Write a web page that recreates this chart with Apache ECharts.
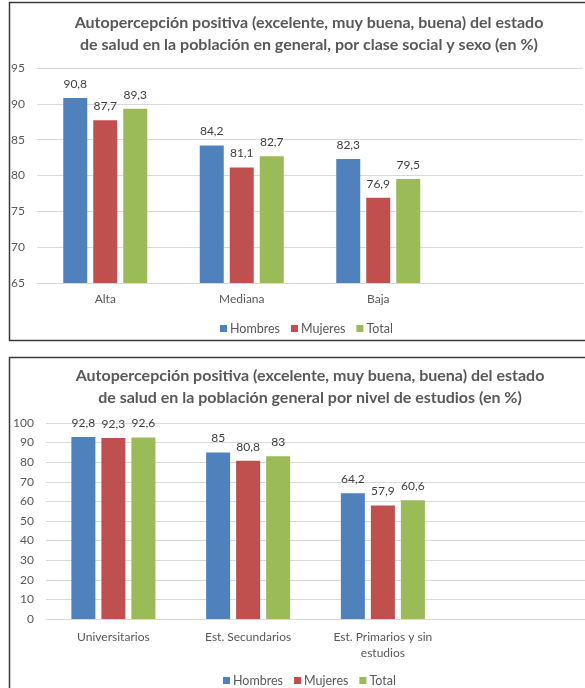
<!DOCTYPE html>
<html>
<head>
<meta charset="utf-8">
<script src="https://cdn.jsdelivr.net/npm/echarts@6/dist/echarts.min.js"></script>
<style>
  html, body { margin: 0; padding: 0; background: #fff; overflow: hidden; }
  #chart { width: 585px; height: 688px; }
</style>
</head>
<body>
<div id="chart"></div>
<script>
// Chart 1: self-rated health by social class and sex
const claseCategories = ['Alta', 'Mediana', 'Baja'];
const claseHombres = [90.8, 84.2, 82.3];
const claseMujeres = [87.7, 81.1, 76.9];
const claseTotal   = [89.3, 82.7, 79.5];
const claseTicks = { min: 65, max: 95, interval: 5 };

// Chart 2: self-rated health by education level
const estudiosCategories = ['Universitarios', 'Est. Secundarios', 'Est. Primarios y sin\nestudios'];
const estudiosHombres = [92.8, 85, 64.2];
const estudiosMujeres = [92.3, 80.8, 57.9];
const estudiosTotal   = [92.6, 83, 60.6];
const estudiosTicks = { min: 0, max: 100, interval: 10 };

const seriesNames = ['Hombres', 'Mujeres', 'Total'];
const colors = ['#4F81BD', '#C0504D', '#9BBB59'];

const FONT = 'Lato';
const textGrey = '#595959';

const comma = v => String(v).replace('.', ',');

function barSeries(name, data, axisIndex, color) {
  return {
    name: name,
    type: 'bar',
    xAxisIndex: axisIndex,
    yAxisIndex: axisIndex,
    data: data,
    barWidth: 24,
    barGap: '25%',
    itemStyle: { color: color },
    label: {
      show: true,
      position: 'top',
      distance: 8,
      color: '#404040',
      fontFamily: FONT,
      fontSize: 12,
      formatter: p => comma(p.value)
    }
  };
}

function legendAt(left, top) {
  return {
    data: seriesNames, left: left, top: top,
    itemWidth: 7, itemHeight: 7, itemGap: 11, icon: 'rect',
    textStyle: { fontFamily: FONT, fontSize: 12.5, color: textGrey, padding: [0, 0, 0, -2] }
  };
}

// an empty trailing slot keeps the plot area as wide as the frame
const pad = cats => cats.concat(['']);

const chart = echarts.init(document.getElementById('chart'), null, { renderer: 'canvas' });

chart.setOption({
  backgroundColor: '#ffffff',
  animation: false,
  textStyle: { fontFamily: FONT },
  graphic: [
    { type: 'rect', shape: { x: 9.5, y: 2.5, width: 620, height: 338 },
      style: { fill: 'none', stroke: '#3a3a3a', lineWidth: 1.5 }, silent: true },
    { type: 'rect', shape: { x: 9.5, y: 357.5, width: 620, height: 400 },
      style: { fill: 'none', stroke: '#3a3a3a', lineWidth: 1.5 }, silent: true }
  ],
  title: [
    {
      text: 'Autopercepción positiva (excelente, muy buena, buena) del estado\nde salud en la población en general, por clase social y sexo (en %)',
      left: 304, top: 7, textAlign: 'center',
      textStyle: { fontFamily: FONT, fontWeight: 'bold', fontSize: 16, color: textGrey, lineHeight: 22 }
    },
    {
      text: 'Autopercepción positiva (excelente, muy buena, buena) del estado\nde salud en la población general por nivel de estudios (en %)',
      left: 305, top: 360, textAlign: 'center',
      textStyle: { fontFamily: FONT, fontWeight: 'bold', fontSize: 16, color: textGrey, lineHeight: 22 }
    }
  ],
  legend: [legendAt(215, 317), legendAt(218, 669)],
  grid: [
    { left: 37, top: 68, width: 546, height: 215 },
    { left: 46, top: 423, width: 542, height: 196 }
  ],
  xAxis: [
    {
      type: 'category', gridIndex: 0, data: pad(claseCategories),
      axisLine: { show: true, lineStyle: { color: '#d9d9d9' } },
      axisTick: { show: false },
      axisLabel: { color: textGrey, fontFamily: FONT, fontSize: 12, margin: 10 }
    },
    {
      type: 'category', gridIndex: 1, data: pad(estudiosCategories),
      axisLine: { show: true, lineStyle: { color: '#d9d9d9' } },
      axisTick: { show: false },
      axisLabel: { color: textGrey, fontFamily: FONT, fontSize: 12, margin: 10, lineHeight: 16, interval: 0 }
    }
  ],
  yAxis: [
    {
      type: 'value', gridIndex: 0,
      min: claseTicks.min, max: claseTicks.max, interval: claseTicks.interval,
      axisLine: { show: false }, axisTick: { show: false },
      splitLine: { lineStyle: { color: '#d9d9d9' } },
      axisLabel: { color: textGrey, fontFamily: FONT, fontSize: 12, margin: 12 }
    },
    {
      type: 'value', gridIndex: 1,
      min: estudiosTicks.min, max: estudiosTicks.max, interval: estudiosTicks.interval,
      axisLine: { show: false }, axisTick: { show: false },
      splitLine: { lineStyle: { color: '#d9d9d9' } },
      axisLabel: { color: textGrey, fontFamily: FONT, fontSize: 12, margin: 12 }
    }
  ],
  series: [
    barSeries('Hombres', claseHombres, 0, colors[0]),
    barSeries('Mujeres', claseMujeres, 0, colors[1]),
    barSeries('Total', claseTotal, 0, colors[2]),
    barSeries('Hombres', estudiosHombres, 1, colors[0]),
    barSeries('Mujeres', estudiosMujeres, 1, colors[1]),
    barSeries('Total', estudiosTotal, 1, colors[2])
  ]
});
</script>
</body>
</html>
